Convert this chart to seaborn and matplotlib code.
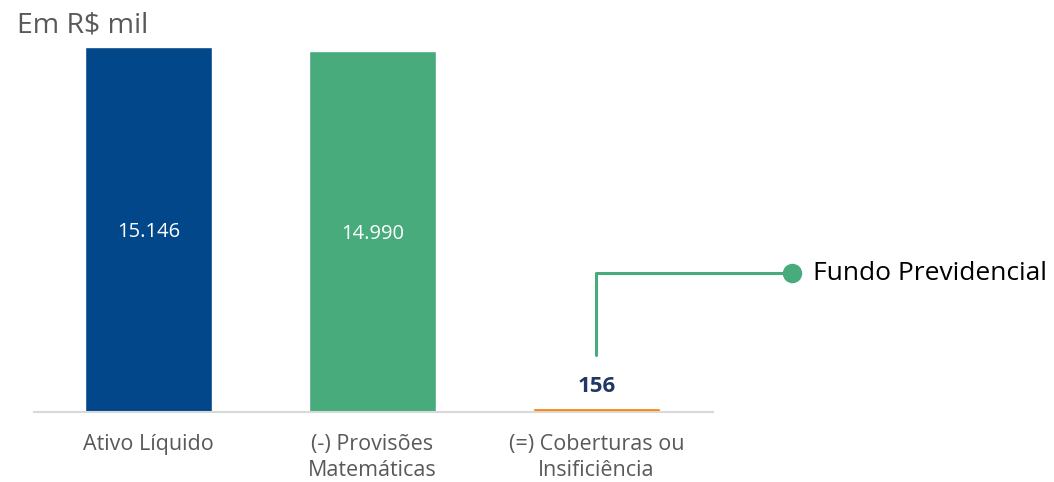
import matplotlib
matplotlib.use("Agg")
import matplotlib.pyplot as plt
import pandas as pd
import seaborn as sns

categorias = ["Ativo Líquido", "(-) Provisões\nMatemáticas", "(=) Coberturas ou\nInsificiência"]
valores = [15146, 14990, 156]
cores = ["#02478A", "#47AB7C", "#FF7A00"]

df = pd.DataFrame({"cat": categorias, "valor": valores})

sns.set_style("white")
plt.rcParams["font.family"] = ["Open Sans", "DejaVu Sans"]

fig = plt.figure(figsize=(10.54, 4.82), dpi=100)
ax = fig.add_axes([0.0323, 0.1452, 0.644, 0.80])

sns.barplot(data=df, x="cat", y="valor", hue="cat", palette=cores,
            legend=False, width=0.567, saturation=1, ax=ax)

ax.set_xlim(-0.51, 2.52)
ax.set_ylim(0, 16000)
ax.set_xlabel("")
ax.set_ylabel("")
ax.set_yticks([])
for s in ["top", "right", "left"]:
    ax.spines[s].set_visible(False)
ax.spines["bottom"].set_color("#D9D9D9")
ax.spines["bottom"].set_linewidth(1.5)
ax.tick_params(axis="x", length=0, pad=16, labelsize=15.5, labelcolor="#595959")
for lb in ax.get_xticklabels():
    lb.set_linespacing(1.3)

# rótulos
for i, v in enumerate(valores):
    txt = f"{v:,}".replace(",", ".")
    if v > 1000:
        ax.text(i, v / 2 - 100, txt, ha="center", va="center", color="white", fontsize=14.5)
    else:
        ax.annotate(txt, (i, v), xytext=(0, 8), textcoords="offset points",
                    ha="center", va="bottom", color="#1F3864", fontsize=16, fontweight="bold")

# chamada Fundo Previdencial
ax.plot([2, 2, 2.873], [2365, 5768, 5768], color="#47AB7C", lw=2.2, clip_on=False)
ax.plot([2.873], [5768], "o", color="#47AB7C", ms=13, clip_on=False)
ax.text(2.965, 5768, "Fundo Previdencial", ha="left", va="center", fontsize=19, color="black")

fig.text(0.016, 0.948, "Em R$ mil", ha="left", va="center", fontsize=20.5, color="#595959")

fig.savefig("out.png", dpi=100)
